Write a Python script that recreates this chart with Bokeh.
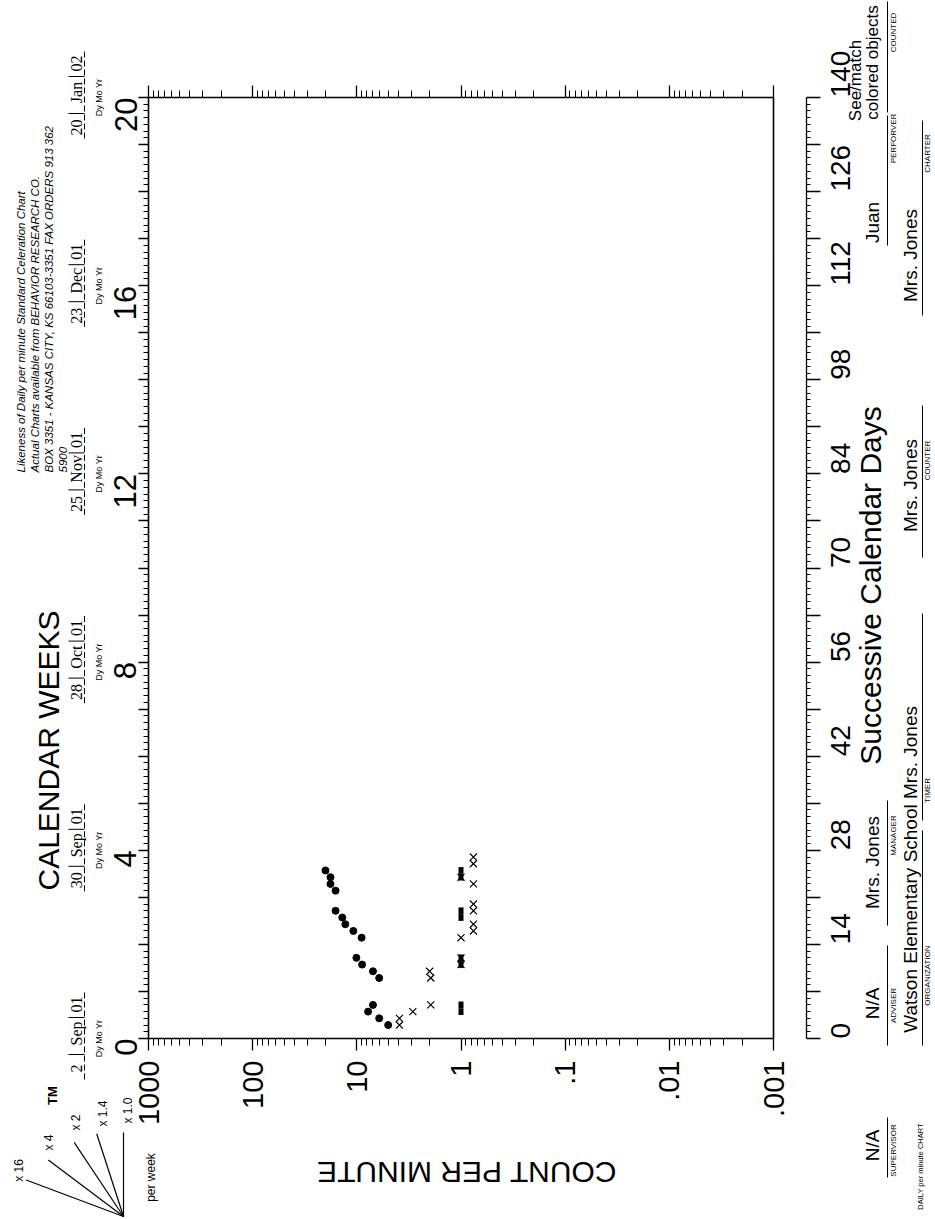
import math
from bokeh.plotting import figure
from bokeh.models import LogAxis, LinearAxis, FixedTicker, Range1d
from bokeh.core.properties import value
from bokeh.embed import file_html
from bokeh.resources import INLINE

# ------------------------- data -------------------------
correct_days = [2, 3, 4, 5, 9, 10, 11, 12, 15, 16, 17, 18, 19, 22, 23, 24, 25]
correct_rate = [5.0, 6.1, 7.8, 7.0, 6.1, 7.0, 8.9, 10.1, 9.0, 10.8, 12.9, 13.8, 16.0, 16.0, 17.9, 17.9, 20.0]
error_days = [2, 3, 4, 5, 9, 10, 11, 12, 15, 16, 17, 19, 20, 23, 24, 26, 27]
error_rate = [3.9, 3.9, 2.9, 1.95, 1.95, 2.0, 1.0, 1.0, 1.0, 0.76, 0.76, 0.76, 0.76, 0.76, 1.0, 0.76, 0.76]
floor_days = [4, 5, 11, 12, 18, 19, 24, 25]
floor_rate = [1.0, 1.0, 1.0, 1.0, 1.0, 1.0, 1.0, 1.0]

count_ticks = [1000, 100, 10, 1, 0.1, 0.01, 0.001]
count_labels = ["1000", "100", "10", "1", ".1", ".01", ".001"]
week_numbers = [0, 4, 8, 12, 16, 20]
week_dates = [["2", "Sep", "01"], ["30", "Sep", "01"], ["28", "Oct", "01"],
              ["25", "Nov", "01"], ["23", "Dec", "01"], ["20", "Jan", "02"]]
day_numbers = [0, 14, 28, 42, 56, 70, 84, 98, 112, 126, 140]
celerations = [16, 4, 2, 1.4, 1.0]
celeration_labels = ["x 16", "x 4", "x 2", "x 1.4", "x 1.0"]

# ------------------------- layout (page pixels) -------------------------
HALF = math.pi / 2
FL, FR, FT, FB = 148.0, 773.0, 97.0, 1038.0
DEC = (FR - FL) / 6.0
DAY = (FB - FT) / 140.0
M = 0
W, H = 934, 1218
SANS = "Liberation Sans"
SERIF = "Liberation Serif"


def vx(px):
    return 10 ** (3 - (px - FL) / DEC)


def vy(py):
    return (FB - py) / DAY


p = figure(width=W, height=H, x_axis_type="log",
           x_range=Range1d(vx(M), vx(M + W)), y_range=Range1d(vy(M + H), vy(M)),
           x_axis_location=None, y_axis_location=None, toolbar_location=None,
           output_backend="svg", min_border=0, title=None,
           outline_line_color=None, background_fill_color="white",
           border_fill_color="white")
p.xgrid.visible = False
p.ygrid.visible = False


def style_axis(ax, major_out, minor_out, size):
    ax.axis_line_color = None
    ax.major_tick_in = 0
    ax.minor_tick_in = 0
    ax.major_tick_out = major_out
    ax.minor_tick_out = minor_out
    ax.major_tick_line_color = "black"
    ax.minor_tick_line_color = "black"
    ax.major_tick_line_width = 1.3
    ax.minor_tick_line_width = 1
    ax.major_label_text_font = SANS
    ax.major_label_text_font_size = size
    ax.major_label_text_color = "black"
    ax.major_label_orientation = HALF


minor_counts = [m * 10.0 ** k for k in range(-3, 3) for m in range(2, 10)]
count_ticker = FixedTicker(ticks=count_ticks, minor_ticks=minor_counts)

ax_b = LogAxis(ticker=count_ticker, fixed_location=0,
               major_label_overrides=dict(zip(count_ticks, count_labels)))
style_axis(ax_b, 12, 7, "29px")
ax_b.major_label_standoff = 10
p.add_layout(ax_b, "below")

ax_t = LogAxis(ticker=count_ticker, fixed_location=140,
               major_label_overrides={t: "" for t in count_ticks})
style_axis(ax_t, 12, 7, "10px")
p.add_layout(ax_t, "above")

weekly = [7 * i for i in range(21)]
daily = list(range(141))

ax_l = LinearAxis(ticker=FixedTicker(ticks=weekly, minor_ticks=daily), fixed_location=vx(FL),
                  major_label_overrides={7 * i: (str(i) if i in week_numbers else "") for i in range(21)})
style_axis(ax_l, 10, 5, "31px")
ax_l.major_label_standoff = 13
p.add_layout(ax_l, "left")

RX = 806
ax_r = LinearAxis(ticker=FixedTicker(ticks=weekly, minor_ticks=daily), fixed_location=vx(RX),
                  bounds=(0, 140),
                  major_label_overrides={7 * i: (str(7 * i) if 7 * i in day_numbers else "") for i in range(21)})
style_axis(ax_r, 14, 4, "28px")
ax_r.axis_line_color = "black"
ax_r.axis_line_width = 1.3
ax_r.major_label_standoff = 20
p.add_layout(ax_r, "right")

# chart box
p.quad(left=[count_ticks[0]], right=[count_ticks[-1]], bottom=[0], top=[140],
       fill_color=None, line_color="black", line_width=1.6)

# ------------------------- data marks -------------------------
p.rect(x=floor_rate, y=floor_days, width=5, height=1, width_units="screen",
       fill_color="black", line_color=None)
p.scatter(x=correct_rate, y=correct_days, marker="circle", size=7,
          fill_color="black", line_color="black")
p.scatter(x=error_rate, y=error_days, marker="x", size=10,
          line_color="black", line_width=1.2)


# ------------------------- helpers -------------------------
def put_text(px, py, s, size, angle=HALF, font=SANS, style="normal", align="center"):
    p.text(x=[vx(px)], y=[vy(py)], text=[s], angle=angle,
           text_font=value(font), text_font_size=value(f"{size}px"),
           text_font_style=style, text_align=align, text_baseline="middle",
           text_color="black")


def put_line(x0, y0, x1, y1, width=1.0, dash="solid"):
    p.segment(x0=[vx(x0)], y0=[vy(y0)], x1=[vx(x1)], y1=[vy(y1)],
              line_color="black", line_width=width, line_dash=dash)


# ------------------------- left side -------------------------
put_text(48, 750, "CALENDAR WEEKS", 30)

likeness = ["Likeness of  Daily  per minute Standard Celeration Chart",
            "Actual Charts available from BEHAVIOR RESEARCH CO.",
            "BOX 3351 - KANSAS CITY, KS 66103-3351  FAX  ORDERS 913 362",
            "5900"]
for i, line in enumerate(likeness):
    put_text(20 + 14 * i, 472, line, 11.5, style="italic", align="left")

for n, (d, mo, yr) in zip(week_numbers, week_dates):
    yc = FB - 7 * n * DAY
    put_text(76, yc + 30, d, 16, font=SERIF)
    put_text(76, yc - 5, mo, 16, font=SERIF)
    put_text(76, yc - 34, yr, 16, font=SERIF)
    put_line(68, yc + 16, 84, yc + 16, 1.0)
    put_line(68, yc - 21, 84, yc - 21, 1.0)
    put_line(84, yc - 46, 84, yc + 42, 1.0, "6 3")
    put_text(98, yc, "Dy Mo Yr", 9)

# celeration fan
OX, OY = 123, 1216
fan_len = [104, 94, 89, 87, 84]
fan_lab = [(18, 1170), (48, 1142), (75, 1122), (102, 1113), (127, 1110)]
for m, ln, lab, (lx, ly) in zip(celerations, fan_len, celeration_labels, fan_lab):
    a = math.log10(m) * DEC
    b = 7 * DAY
    nrm = math.hypot(a, b)
    ex, ey = OX - ln * a / nrm, OY - ln * b / nrm
    put_line(OX, OY, ex, ey, 1.2)
    put_text(lx, ly, lab, 12)
put_text(52, 1095, "TM", 13, style="bold")
put_text(150, 1177, "per week", 12)

put_text(466, 1172, "COUNT PER MINUTE", 30, angle=math.pi)

# ------------------------- right side -------------------------
put_text(870, 585, "Successive Calendar Days", 30)

COLA = (872, 887, 893)
COLB = (910, 922, 927)
fields = [
    ("colored objects", 62, "COUNTED", 32, COLA, 1, 112),
    ("Juan", 222, "PERFORVER", 138, COLA, 115, 245),
    ("Mrs. Jones", 255, "CHARTER", 153, COLB, 120, 315),
    ("Mrs. Jones", 485, "COUNTER", 460, COLB, 405, 557),
    ("Mrs. Jones", 752, "TIMER", 790, COLB, 613, 820),
    ("Mrs. Jones", 862, "MANAGER", 835, COLA, 800, 925),
    ("N/A", 1003, "ADVISER", 1005, COLA, 945, 1045),
    ("Watson Elementary School", 918, "ORGANIZATION", 975, COLB, 830, 1045),
    ("N/A", 1145, "SUPERVISOR", 1150, COLA, 1117, 1177),
]
for val, vcy, cap, ccy, (vxp, lxp, cxp), y0, y1 in fields:
    put_text(vxp, vcy, val, 19 if val != "colored objects" else 17)
    put_line(lxp, y0, lxp, y1, 1.0)
    put_text(cxp, ccy, cap, 8)
put_text(855, 80, "See/match", 17)
put_text(920, 1166, "DAILY per minute CHART", 7.5)

open("out.html", "w").write(file_html(p, INLINE))
